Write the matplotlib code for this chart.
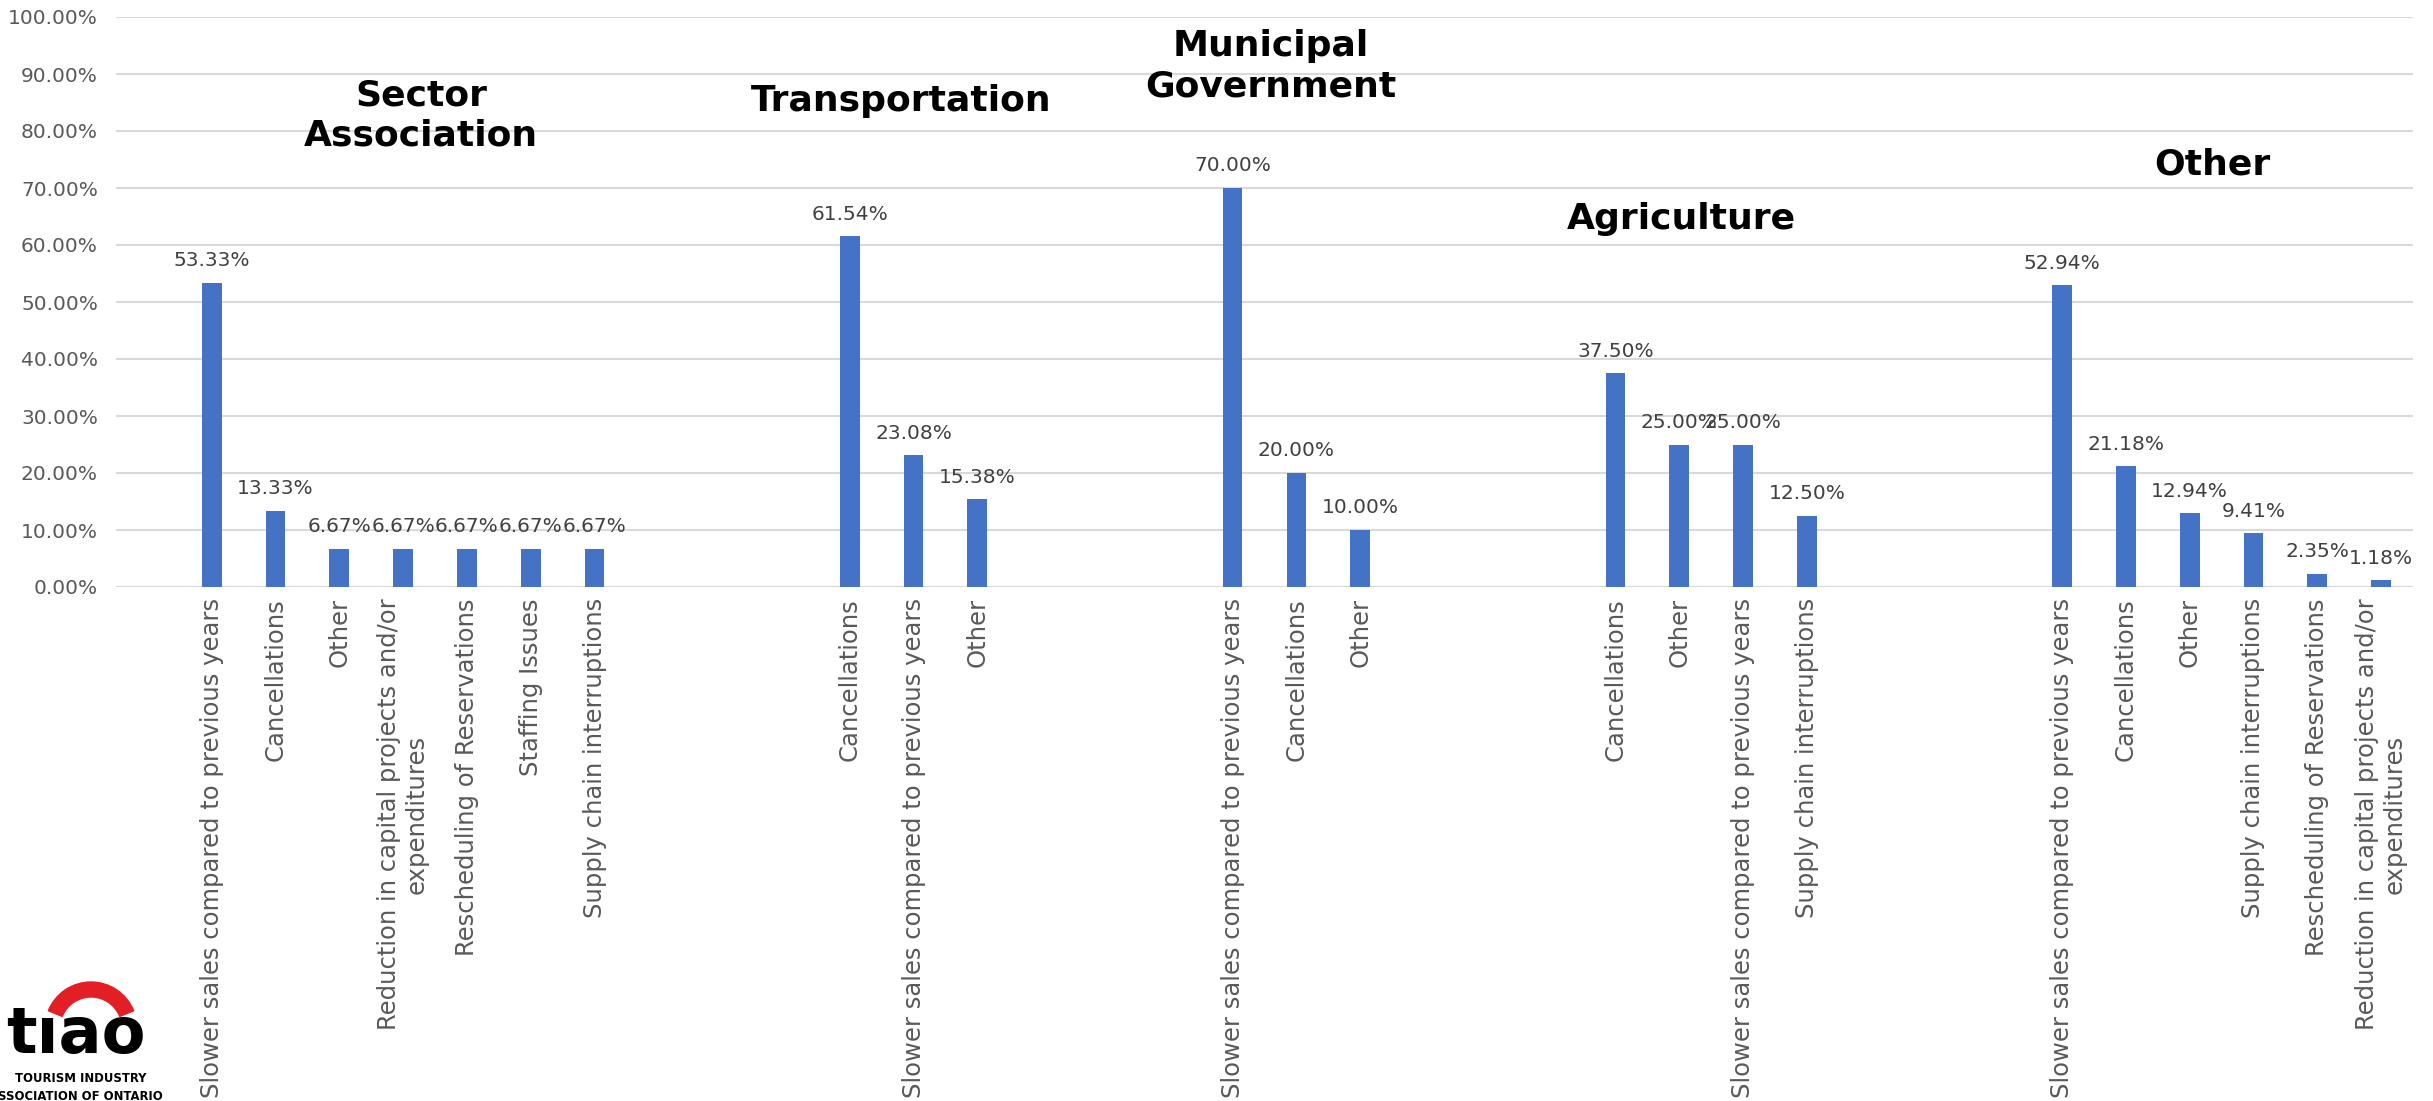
import matplotlib
matplotlib.use("Agg")
import matplotlib.pyplot as plt
from matplotlib.patches import Wedge
from matplotlib.transforms import IdentityTransform
from matplotlib.ticker import PercentFormatter, MultipleLocator

plt.rcParams["font.family"] = ["DejaVu Sans"]

# Survey results by sector (share of respondents, %)
group_titles = ["Sector\nAssociation", "Transportation", "Municipal\nGovernment",
                "Agriculture", "Other"]

sector_labels = ["Slower sales compared to previous years", "Cancellations", "Other",
                 "Reduction in capital projects and/or\nexpenditures",
                 "Rescheduling of Reservations", "Staffing Issues",
                 "Supply chain interruptions"]
sector_values = [53.33, 13.33, 6.67, 6.67, 6.67, 6.67, 6.67]

transport_labels = ["Cancellations", "Slower sales compared to previous years", "Other"]
transport_values = [61.54, 23.08, 15.38]

municipal_labels = ["Slower sales compared to previous years", "Cancellations", "Other"]
municipal_values = [70.00, 20.00, 10.00]

agriculture_labels = ["Cancellations", "Other", "Slower sales compared to previous years",
                      "Supply chain interruptions"]
agriculture_values = [37.50, 25.00, 25.00, 12.50]

other_labels = ["Slower sales compared to previous years", "Cancellations", "Other",
                "Supply chain interruptions", "Rescheduling of Reservations",
                "Reduction in capital projects and/or\nexpenditures"]
other_values = [52.94, 21.18, 12.94, 9.41, 2.35, 1.18]

group_labels = [sector_labels, transport_labels, municipal_labels,
                agriculture_labels, other_labels]
group_values = [sector_values, transport_values, municipal_values,
                agriculture_values, other_values]

# Title placement (x offset from group start in category slots, y in %)
title_x_offsets = [3.28, 0.8, 0.6, 1.04, 2.36]
title_y = [82.7, 85.3, 91.4, 64.6, 74.1]

BAR_COLOR = "#4472C4"
GRID_COLOR = "#D9D9D9"
GAP = 3  # empty category slots between sectors

fig = plt.figure(figsize=(24.33, 11.01), dpi=100)
ax = fig.add_axes([116 / 2433, 1 - 587 / 1101, (2413 - 116) / 2433, (587 - 17) / 1101])

positions, labels, values, starts = [], [], [], []
pos = 0
for labs, vals in zip(group_labels, group_values):
    starts.append(pos)
    for lab, val in zip(labs, vals):
        positions.append(pos)
        labels.append(lab)
        values.append(val)
        pos += 1
    pos += GAP

ax.bar(positions, values, width=0.31, color=BAR_COLOR, zorder=3)

for x, v in zip(positions, values):
    ax.annotate(f"{v:.2f}%", xy=(x, v), xytext=(0, 12), textcoords="offset points",
                ha="center", va="baseline", fontsize=14.5, color="#404040", zorder=4)

for s, title, dx, ty in zip(starts, group_titles, title_x_offsets, title_y):
    ax.text(s + dx, ty, title, ha="center", va="center", fontsize=26,
            fontweight="bold", color="black", linespacing=1.25, zorder=4)

ax.set_xlim(-1.5, 34.5)
ax.set_ylim(0, 100)
ax.yaxis.set_major_locator(MultipleLocator(10))
ax.yaxis.set_major_formatter(PercentFormatter(100, decimals=2))
ax.set_xticks(positions)
ax.set_xticklabels(labels, rotation=90, fontsize=17.5, color="#595959",
                   va="top", ha="center")
ax.tick_params(axis="x", length=0, pad=8)
ax.tick_params(axis="y", length=0, pad=13, labelsize=14.5, labelcolor="#595959")
ax.grid(axis="y", color=GRID_COLOR, linewidth=1.5, zorder=0)
for side in ["top", "right", "left", "bottom"]:
    ax.spines[side].set_visible(False)
ax.axhline(0, color=GRID_COLOR, linewidth=1.5, zorder=2)

# Association logo in the lower-left corner (pixel coordinates)
ident = IdentityTransform()
fig.add_artist(Wedge((91, 73), 46, 22, 158, width=15, color="#E31E24",
                     transform=ident))
fig.text(6, 48, "tıao", transform=ident, fontsize=46, fontweight="bold",
         color="black", ha="left", va="baseline")
fig.text(81, 23, "TOURISM INDUSTRY", transform=ident, fontsize=8.4,
         fontweight="bold", color="black", ha="center", va="center")
fig.text(163, 5, "ASSOCIATION OF ONTARIO", transform=ident, fontsize=8.4,
         fontweight="bold", color="black", ha="right", va="center")

fig.savefig("out.png", dpi=100)
